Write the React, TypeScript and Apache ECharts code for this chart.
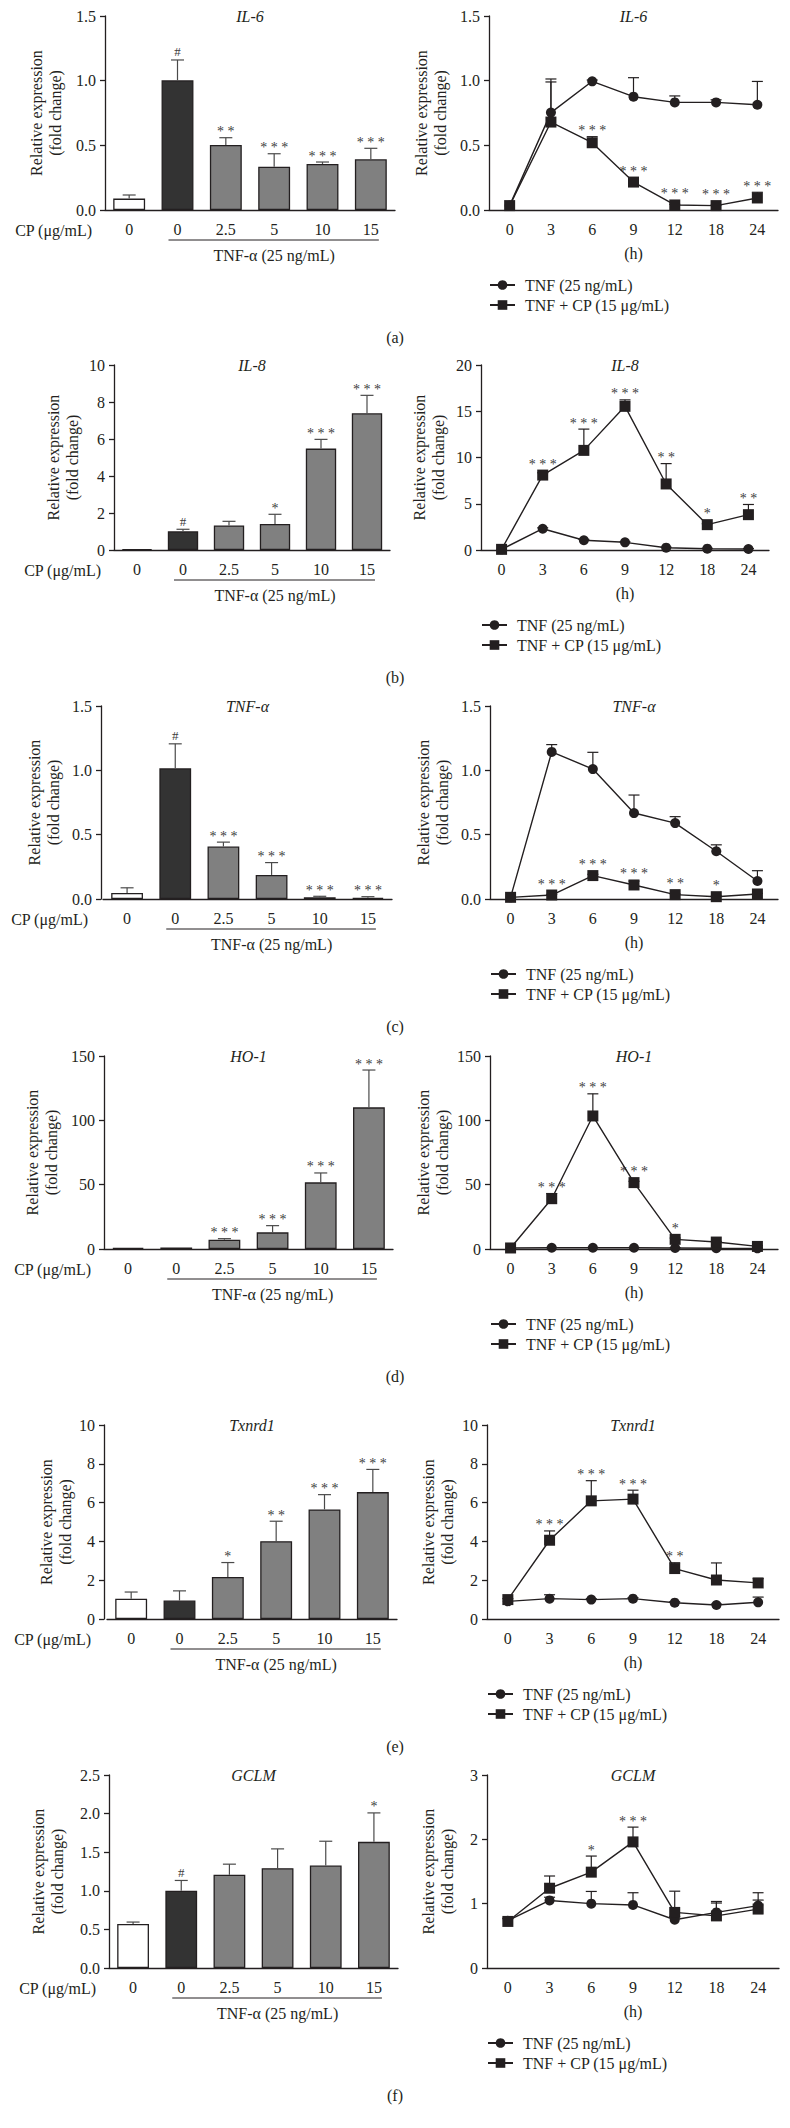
import React, { useEffect, useRef } from "react";
import * as echarts from "echarts";

// ---------- categories ----------
const doseCategories = ["0", "0", "2.5", "5", "10", "15"];
const timeCategories = ["0", "3", "6", "9", "12", "18", "24"];
const seriesNames = ["TNF (25 ng/mL)", "TNF + CP (15 μg/mL)"];
const panelLetters = ["(a)", "(b)", "(c)", "(d)", "(e)", "(f)"];
const geneTitles = ["IL-6", "IL-8", "TNF-α", "HO-1", "Txnrd1", "GCLM"];

// ---------- dose-response (left) ----------
const il6DoseMean = [0.088, 1.003, 0.503, 0.335, 0.356, 0.392];
const il6DoseErr = [0.028, 0.157, 0.056, 0.1, 0.015, 0.085];
const il6DoseSig = ["", "#", "**", "***", "***", "***"];

const il8DoseMean = [0.05, 1.01, 1.33, 1.41, 5.48, 7.39];
const il8DoseErr = [0, 0.11, 0.22, 0.52, 0.5, 0.97];
const il8DoseSig = ["", "#", "", "*", "***", "***"];

const tnfDoseMean = [0.047, 1.016, 0.408, 0.187, 0.013, 0.01];
const tnfDoseErr = [0.04, 0.19, 0.034, 0.096, 0.008, 0.008];
const tnfDoseSig = ["", "#", "***", "***", "***", "***"];

const ho1DoseMean = [1.0, 1.2, 7.25, 12.95, 51.8, 110.1];
const ho1DoseErr = [0, 0, 0.8, 5.2, 7.3, 29.0];
const ho1DoseSig = ["", "", "***", "***", "***", "***"];

const txnDoseMean = [1.05, 0.95, 2.17, 4.01, 5.65, 6.54];
const txnDoseErr = [0.34, 0.5, 0.74, 1.03, 0.76, 1.17];
const txnDoseSig = ["", "", "*", "**", "***", "***"];

const gclmDoseMean = [0.569, 1.0, 1.207, 1.293, 1.328, 1.634];
const gclmDoseErr = [0.026, 0.134, 0.138, 0.25, 0.314, 0.375];
const gclmDoseSig = ["", "#", "", "", "", "*"];

// ---------- time course (right) ----------
const il6TnfMean = [0.034, 0.753, 0.995, 0.876, 0.832, 0.832, 0.814];
const il6TnfErr = [0, 0.26, 0.01, 0.147, 0.05, 0.02, 0.18];
const il6CpMean = [0.034, 0.68, 0.52, 0.216, 0.039, 0.034, 0.093];
const il6CpErr = [0, 0.31, 0.047, 0.015, 0.005, 0.005, 0.044];
const il6TimeSig = ["", "", "***", "***", "***", "***", "***"];

const il8TnfMean = [0.07, 2.3, 1.05, 0.83, 0.25, 0.14, 0.11];
const il8TnfErr = [0, 0.1, 0.1, 0.05, 0.05, 0.05, 0.05];
const il8CpMean = [0.07, 8.1, 10.77, 15.53, 7.14, 2.74, 3.82];
const il8CpErr = [0, 0.25, 2.3, 0.7, 2.2, 0.1, 1.1];
const il8TimeSig = ["", "***", "***", "***", "**", "*", "**"];

const tnfTnfMean = [0.013, 1.143, 1.01, 0.668, 0.59, 0.371, 0.14];
const tnfTnfErr = [0, 0.057, 0.13, 0.14, 0.05, 0.05, 0.08];
const tnfCpMean = [0.013, 0.031, 0.182, 0.109, 0.034, 0.018, 0.039];
const tnfCpErr = [0, 0.005, 0.01, 0.03, 0.005, 0.005, 0.005];
const tnfTimeSig = ["", "***", "***", "***", "**", "*", ""];

const ho1TnfMean = [0.8, 1.0, 1.0, 1.0, 0.8, 0.6, 0.5];
const ho1TnfErr = [0, 0.2, 0.2, 0.2, 0.2, 0.2, 0.2];
const ho1CpMean = [0.8, 39.1, 103.4, 51.6, 7.5, 5.4, 2.0];
const ho1CpErr = [0, 4.0, 17.2, 1.0, 1.0, 0.5, 0.5];
const ho1TimeSig = ["", "***", "***", "***", "*", "", ""];

const txnTnfMean = [0.91, 1.05, 1.0, 1.05, 0.84, 0.72, 0.86];
const txnTnfErr = [0, 0.2, 0.05, 0.05, 0.05, 0.05, 0.27];
const txnCpMean = [1.0, 4.06, 6.09, 6.18, 2.6, 2.01, 1.86];
const txnCpErr = [0.05, 0.48, 1.04, 0.46, 0.3, 0.88, 0.22];
const txnTimeSig = ["", "***", "***", "***", "**", "", ""];

const gclmTnfMean = [0.735, 1.05, 1.0, 0.98, 0.75, 0.864, 0.97];
const gclmTnfErr = [0.03, 0.05, 0.19, 0.19, 0.05, 0.17, 0.2];
const gclmCpMean = [0.724, 1.24, 1.49, 1.96, 0.864, 0.81, 0.916];
const gclmCpErr = [0.05, 0.19, 0.25, 0.23, 0.33, 0.2, 0.14];
const gclmTimeSig = ["", "", "*", "***", "", "", ""];

// ---------- axis scales ----------
const doseAxisMax = [1.5, 10, 1.5, 150, 10, 2.5];
const doseAxisStep = [0.5, 2, 0.5, 50, 2, 0.5];
const timeAxisMax = [1.5, 20, 1.5, 150, 10, 3];
const timeAxisStep = [0.5, 5, 0.5, 50, 2, 1];
const doseAxisDigits = [1, 0, 1, 0, 0, 1];
const timeAxisDigits = [1, 0, 1, 0, 0, 0];

const doseMeans = [il6DoseMean, il8DoseMean, tnfDoseMean, ho1DoseMean, txnDoseMean, gclmDoseMean];
const doseErrs = [il6DoseErr, il8DoseErr, tnfDoseErr, ho1DoseErr, txnDoseErr, gclmDoseErr];
const doseSigs = [il6DoseSig, il8DoseSig, tnfDoseSig, ho1DoseSig, txnDoseSig, gclmDoseSig];
const tnfMeans = [il6TnfMean, il8TnfMean, tnfTnfMean, ho1TnfMean, txnTnfMean, gclmTnfMean];
const tnfErrs = [il6TnfErr, il8TnfErr, tnfTnfErr, ho1TnfErr, txnTnfErr, gclmTnfErr];
const cpMeans = [il6CpMean, il8CpMean, tnfCpMean, ho1CpMean, txnCpMean, gclmCpMean];
const cpErrs = [il6CpErr, il8CpErr, tnfCpErr, ho1CpErr, txnCpErr, gclmCpErr];
const timeSigs = [il6TimeSig, il8TimeSig, tnfTimeSig, ho1TimeSig, txnTimeSig, gclmTimeSig];

// ---------- layout (pixels) ----------
const rows = [
  { top: 16, zero: 210, lx: 105, lw: 290, lOff: 0, rx: 489, rw: 289, gapL: 40, gapR: 39 },
  { top: 365, zero: 550, lx: 114, lw: 276, lOff: 0, rx: 481, rw: 288, gapL: 32, gapR: 33 },
  { top: 706, zero: 899, lx: 103, lw: 289, lOff: 2, rx: 490, rw: 288, gapL: 38, gapR: 38 },
  { top: 1056, zero: 1249, lx: 104, lw: 289, lOff: 0, rx: 490, rw: 288, gapL: 43, gapR: 38 },
  { top: 1425, zero: 1619, lx: 107, lw: 290, lOff: 3, rx: 487, rw: 292, gapL: 27, gapR: 30 },
  { top: 1775, zero: 1968, lx: 109, lw: 289, lOff: 0, rx: 487, rw: 292, gapL: 42, gapR: 30 },
];

const FONT = "'Liberation Serif', 'Times New Roman', serif";
const INK = "#231f20";
const BAR_FILLS = ["#ffffff", "#333333", "#808080", "#808080", "#808080", "#808080"];

function errRenderer(sig: string[], cap: number, color: string, clearance: number) {
  return (params: any, api: any) => {
    const i = api.value(0);
    const v = api.value(1);
    const e = api.value(2);
    const base = api.coord([i, v]);
    const top = api.coord([i, v + e]);
    const children: any[] = [];
    if (e > 0) {
      children.push({
        type: "line",
        shape: { x1: base[0], y1: base[1], x2: top[0], y2: top[1] },
        style: { stroke: color, lineWidth: 1.2 },
      });
      children.push({
        type: "line",
        shape: { x1: top[0] - cap, y1: top[1], x2: top[0] + cap, y2: top[1] },
        style: { stroke: color, lineWidth: 1.2 },
      });
    }
    const s = sig[params.dataIndex];
    if (s) {
      const yTop = Math.min(top[1], base[1] - clearance);
      const isHash = s === "#";
      children.push({
        type: "text",
        style: {
          text: isHash ? "#" : s.split("").join(" "),
          x: top[0],
          y: yTop - (isHash ? 8 : 6),
          align: "center",
          verticalAlign: "middle",
          fontSize: isHash ? 13 : 14,
          fontFamily: FONT,
          fill: "#3d3d3d",
        },
      });
    }
    return { type: "group", children };
  };
}

function buildOption() {
  const grid: any[] = [];
  const xAxis: any[] = [];
  const yAxis: any[] = [];
  const series: any[] = [];
  const legend: any[] = [];
  const graphic: any[] = [];

  const axisLine = { show: true, lineStyle: { color: INK, width: 1.3 } };
  const tickStyle = { color: INK, width: 1.3 };
  const labelStyle = { fontSize: 16, fontFamily: FONT, color: INK };

  rows.forEach((r, k) => {
    const gi = 2 * k;
    const gj = 2 * k + 1;
    const height = r.zero - r.top;

    grid.push({ left: r.lx, top: r.top, width: r.lw, height });
    grid.push({ left: r.rx, top: r.top, width: r.rw, height });

    xAxis.push({
      type: "category",
      gridIndex: gi,
      data: doseCategories,
      axisLine,
      axisTick: { alignWithLabel: true, length: 5, lineStyle: tickStyle },
      axisLabel: { ...labelStyle, margin: 11 },
    });
    xAxis.push({
      type: "category",
      gridIndex: gj,
      data: timeCategories,
      axisLine,
      axisTick: { alignWithLabel: true, length: 5, lineStyle: tickStyle },
      axisLabel: { ...labelStyle, margin: 11 },
      name: "(h)",
      nameLocation: "middle",
      nameGap: 35,
      nameTextStyle: labelStyle,
    });

    const yName = "Relative expression\n(fold change)";
    const yCommon = {
      type: "value",
      min: 0,
      axisLine,
      axisTick: { show: true, length: 5, lineStyle: tickStyle },
      splitLine: { show: false },
      name: yName,
      nameLocation: "middle",
      nameRotate: 90,
      nameTextStyle: { ...labelStyle, lineHeight: 19 },
    };
    const dd = doseAxisDigits[k];
    const td = timeAxisDigits[k];
    yAxis.push({
      ...yCommon,
      gridIndex: gi,
      offset: r.lOff,
      max: doseAxisMax[k],
      interval: doseAxisStep[k],
      nameGap: r.gapL,
      axisLabel: { ...labelStyle, margin: 9, formatter: (v: number) => v.toFixed(dd) },
    });
    yAxis.push({
      ...yCommon,
      gridIndex: gj,
      max: timeAxisMax[k],
      interval: timeAxisStep[k],
      nameGap: r.gapR,
      axisLabel: { ...labelStyle, margin: 9, formatter: (v: number) => v.toFixed(td) },
    });

    // bars
    series.push({
      type: "bar",
      xAxisIndex: gi,
      yAxisIndex: gi,
      barWidth: "66%",
      data: doseMeans[k].map((v, i) => ({ value: v, itemStyle: { color: BAR_FILLS[i] } })),
      itemStyle: { borderColor: INK, borderWidth: 1.3 },
      z: 2,
    });
    series.push({
      type: "custom",
      xAxisIndex: gi,
      yAxisIndex: gi,
      data: doseMeans[k].map((v, i) => [i, v, doseErrs[k][i]]),
      renderItem: errRenderer(doseSigs[k], 6.5, "#4a4a4a", 0),
      z: 3,
    });

    // time course lines
    series.push({
      type: "custom",
      xAxisIndex: gj,
      yAxisIndex: gj,
      data: tnfMeans[k].map((v, i) => [i, v, tnfErrs[k][i]]),
      renderItem: errRenderer(timeSigs[k].map(() => ""), 5.5, INK, 5),
      z: 2,
    });
    series.push({
      type: "custom",
      xAxisIndex: gj,
      yAxisIndex: gj,
      data: cpMeans[k].map((v, i) => [i, v, cpErrs[k][i]]),
      renderItem: errRenderer(timeSigs[k], 5.5, INK, 5),
      z: 2,
    });
    series.push({
      type: "line",
      name: seriesNames[0],
      xAxisIndex: gj,
      yAxisIndex: gj,
      data: tnfMeans[k],
      symbol: "circle",
      symbolSize: 10,
      itemStyle: { color: INK },
      lineStyle: { color: INK, width: 1.4 },
      z: 3,
    });
    series.push({
      type: "line",
      name: seriesNames[1],
      xAxisIndex: gj,
      yAxisIndex: gj,
      data: cpMeans[k],
      symbol: "rect",
      symbolSize: 11,
      itemStyle: { color: INK },
      lineStyle: { color: INK, width: 1.4 },
      z: 4,
    });

    legend.push({
      orient: "vertical",
      left: r.rx,
      top: r.zero + 67,
      padding: 0,
      itemWidth: 25,
      itemHeight: 12,
      itemGap: 4,
      selectedMode: false,
      data: seriesNames,
      textStyle: { ...labelStyle, lineHeight: 16, padding: [0, 0, 0, 5] },
    });

    // annotations
    const band = r.lw / doseCategories.length;
    const c2 = r.lx + band * 1.5;
    const c6 = r.lx + band * 5.5;
    graphic.push({
      type: "text",
      x: r.lx - r.lOff - 13,
      y: r.zero + 20,
      style: { text: "CP (μg/mL)", align: "right", verticalAlign: "middle", ...labelStyle, fill: INK },
    });
    graphic.push({
      type: "line",
      shape: { x1: c2 - 9, y1: r.zero + 30, x2: c6 + 8, y2: r.zero + 30 },
      style: { stroke: INK, lineWidth: 1 },
    });
    graphic.push({
      type: "text",
      x: (c2 + c6) / 2,
      y: r.zero + 45,
      style: { text: "TNF-α (25 ng/mL)", align: "center", verticalAlign: "middle", ...labelStyle, fill: INK },
    });
    graphic.push({
      type: "text",
      x: 395,
      y: r.zero + 127,
      style: { text: panelLetters[k], align: "center", verticalAlign: "middle", ...labelStyle, fill: INK },
    });
    graphic.push({
      type: "text",
      x: r.lx + r.lw / 2,
      y: r.top,
      style: {
        text: geneTitles[k],
        align: "center",
        verticalAlign: "middle",
        ...labelStyle,
        fontStyle: "italic",
        fill: INK,
      },
    });
    graphic.push({
      type: "text",
      x: r.rx + r.rw / 2,
      y: r.top,
      style: {
        text: geneTitles[k],
        align: "center",
        verticalAlign: "middle",
        ...labelStyle,
        fontStyle: "italic",
        fill: INK,
      },
    });
  });

  return {
    animation: false,
    backgroundColor: "#ffffff",
    textStyle: { fontFamily: FONT },
    grid,
    xAxis,
    yAxis,
    series,
    legend,
    graphic,
  };
}

export default function App() {
  const ref = useRef<HTMLDivElement>(null);
  useEffect(() => {
    if (!ref.current) return;
    const chart = echarts.init(ref.current, undefined, { renderer: "svg" });
    chart.setOption(buildOption() as any);
    return () => chart.dispose();
  }, []);
  return (
    <div
      ref={ref}
      style={{ position: "absolute", left: 0, top: 0, width: 790, height: 2128, background: "#fff" }}
    />
  );
}
